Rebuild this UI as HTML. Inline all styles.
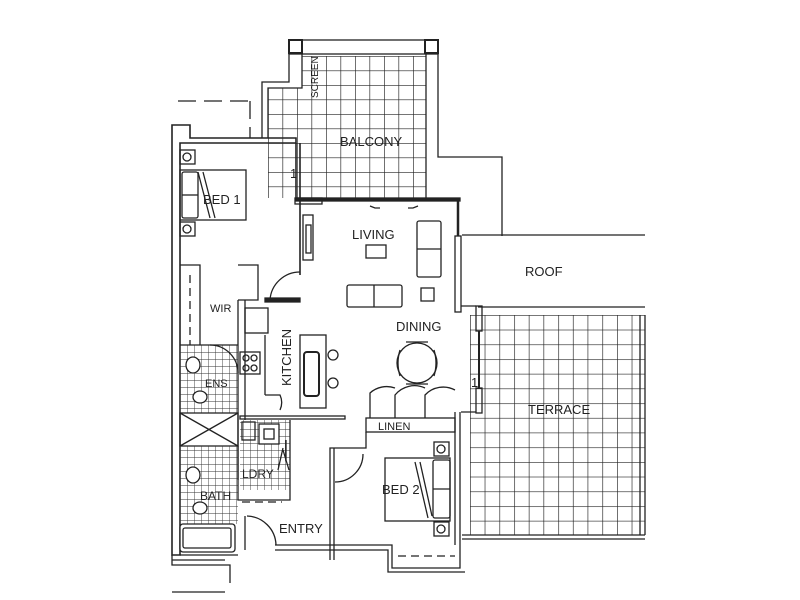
<!DOCTYPE html>
<html><head><meta charset="utf-8"><style>
html,body{margin:0;padding:0;background:#fff;}
svg{display:block;}
text{font-family:"Liberation Sans",sans-serif;font-size:13px;fill:#222;}
</style></head><body>
<svg width="800" height="600" viewBox="0 0 800 600" xmlns="http://www.w3.org/2000/svg">
<defs>
<pattern id="g1" x="268" y="56" width="14.5" height="14.5" patternUnits="userSpaceOnUse">
<path d="M0 0H14.5M0 0V14.5" stroke="#222" stroke-width="1.3" fill="none"/></pattern>
<pattern id="g2" x="470" y="315" width="14.7" height="14.7" patternUnits="userSpaceOnUse">
<path d="M0 0H14.7M0 0V14.7" stroke="#222" stroke-width="1.3" fill="none"/></pattern>
<pattern id="g3" x="180" y="345" width="7" height="7" patternUnits="userSpaceOnUse">
<path d="M0 0H7M0 0V7" stroke="#333" stroke-width="0.9" fill="none"/></pattern>
</defs>
<g fill="none" stroke="#222" stroke-width="1.3">
<rect x="302" y="56" width="124" height="142" fill="url(#g1)" stroke="none"/>
<rect x="268" y="88" width="34" height="110" fill="url(#g1)" stroke="none"/>
<rect x="289" y="40" width="149" height="14"/>
<rect x="289" y="40" width="13" height="13" stroke-width="2"/>
<rect x="425" y="40" width="13" height="13" stroke-width="2"/>
<path d="M302 54V88H268V138M262 138V82H289V54"/>
<path d="M426 53V198M438 53V157H502V236"/>
<path d="M178 101H250M250 101V138" stroke-dasharray="18,8"/>
<path d="M462 235H645M478 307H645"/>
<rect x="470" y="315" width="175" height="220" fill="url(#g2)" stroke="none"/>
<path d="M640 315V535M645 315V535M462 535H645M462 539H645"/>
<path d="M172 125H190V138H296V143H180V555H172Z" stroke-width="1.6"/>
<path d="M172 555V565H230V583M172 560H225M180 555H238"/>
<path d="M172 592H225"/>
<path d="M296 143V200M300 143V275" stroke-width="1.6"/>
<rect x="296" y="198" width="164" height="3" fill="#222"/>
<rect x="295" y="198" width="27" height="6"/>
<path d="M458 200V236" stroke-width="2.5"/>
<rect x="455" y="236" width="6" height="76"/>
<rect x="476" y="306" width="6" height="25"/><rect x="476" y="388" width="6" height="25"/>
<path d="M479 331V388" stroke-width="2"/>
<path d="M461 306H476M461 412H476"/>
<rect x="303" y="215" width="10" height="45"/><rect x="306" y="225" width="5" height="28"/>
<rect x="417" y="221" width="24" height="56" rx="2"/><path d="M417 249H441"/>
<rect x="366" y="245" width="20" height="13"/>
<rect x="347" y="285" width="55" height="22" rx="2"/><path d="M374 285V307"/>
<rect x="421" y="288" width="13" height="13"/>
<path d="M370 206L375 208H380M418 206L413 208H408"/>
<path d="M270 300A30 30 0 0 1 300 272"/>
<path d="M265 298H300V302H265Z" fill="#222"/>
<path d="M180 265H200V345M238 265H258V300H238" />
<path d="M190 275V345" stroke-dasharray="8,5"/>
<path d="M238 300V480M245 300V420"/>
<rect x="245" y="308" width="23" height="25"/>
<rect x="240" y="352" width="20" height="22"/>
<circle cx="246" cy="358" r="3"/><circle cx="254" cy="358" r="3"/><circle cx="246" cy="368" r="3"/><circle cx="254" cy="368" r="3"/>
<path d="M265 335V395"/>
<rect x="300" y="335" width="26" height="73"/>
<rect x="304" y="352" width="15" height="44" rx="3" stroke-width="2"/>
<circle cx="333" cy="355" r="5"/><circle cx="333" cy="383" r="5"/>
<path d="M265 395H280A18 18 0 0 1 280 410"/>
<rect x="240" y="416" width="105" height="3"/>
<circle cx="417" cy="363" r="20"/>
<path d="M400 350Q396 363 400 376M434 350Q438 363 434 376M406 342H428M406 384H428"/>
<path d="M370 418V393A25 25 0 0 1 395 388M395 418V395A25 25 0 0 1 425 388M425 418V395A25 25 0 0 1 455 390"/>
<rect x="366" y="418" width="89" height="14"/>
<path d="M455 412V545M460 412V545"/>
<path d="M366 432V448H330V560"/>
<path d="M334 448V560"/>
<path d="M335 482A28 28 0 0 0 363 454"/>
<rect x="385" y="458" width="65" height="63"/>
<rect x="433" y="460" width="17" height="58" rx="2"/><path d="M433 489H450"/>
<path d="M415 462L428 518M420 462L432 516"/>
<rect x="434" y="442" width="15" height="14"/><circle cx="441" cy="449" r="4"/>
<rect x="434" y="522" width="15" height="14"/><circle cx="441" cy="529" r="4"/>
<path d="M275 545H392V568H460V545M275 550H388V572H465"/>
<path d="M398 556H455" stroke-dasharray="8,5"/>
<path d="M247 516A30 30 0 0 1 276 545"/>
<path d="M245 516V550"/>
<rect x="180" y="150" width="15" height="14"/><circle cx="187" cy="157" r="4"/>
<rect x="180" y="222" width="15" height="14"/><circle cx="187" cy="229" r="4"/>
<rect x="180" y="170" width="66" height="50"/>
<rect x="182" y="172" width="16" height="46" rx="2"/><path d="M182 195H198"/>
<path d="M198 172L210 218M203 172L215 218"/>
<rect x="180" y="345" width="58" height="68" fill="url(#g3)" stroke="none"/>
<path d="M180 345H238"/>
<ellipse cx="193" cy="365" rx="7" ry="8" fill="#fff"/>
<ellipse cx="200" cy="397" rx="7" ry="6" fill="#fff"/>
<path d="M210 345A28 28 0 0 1 238 373"/>
<rect x="180" y="413" width="58" height="33"/>
<path d="M180 413L238 446M238 413L180 446"/>
<rect x="180" y="446" width="58" height="78" fill="url(#g3)" stroke="none"/>
<rect x="240" y="420" width="50" height="70" fill="url(#g3)" stroke="none"/>
<path d="M238 446V500H290V420"/>
<ellipse cx="193" cy="475" rx="7" ry="8" fill="#fff"/>
<ellipse cx="200" cy="508" rx="7" ry="6" fill="#fff"/>
<rect x="242" y="422" width="13" height="18"/>
<rect x="259" y="424" width="20" height="20" fill="#fff"/><rect x="264" y="429" width="10" height="10"/>
<path d="M286 440V460M283 448L278 470M283 450L289 470"/>
<path d="M242 502H282" stroke-dasharray="8,5"/>
<rect x="180" y="524" width="55" height="28" rx="3" fill="#fff"/>
<rect x="183" y="528" width="48" height="20" rx="2"/>
</g>
<g>
<text x="340" y="146">BALCONY</text>
<text x="203" y="204">BED 1</text>
<text x="352" y="239">LIVING</text>
<text x="525" y="276">ROOF</text>
<text x="396" y="331">DINING</text>
<text x="210" y="312" style="font-size:11px">WIR</text>
<text x="205" y="387" style="font-size:11px">ENS</text>
<text x="378" y="430" style="font-size:11px">LINEN</text>
<text x="528" y="414">TERRACE</text>
<text x="242" y="478" style="font-size:12px">LDRY</text>
<text x="382" y="494">BED 2</text>
<text x="200" y="500" style="font-size:12px">BATH</text>
<text x="279" y="533">ENTRY</text>
<text x="291" y="386" transform="rotate(-90 291 386)">KITCHEN</text>
<text x="318" y="98" transform="rotate(-90 318 98)" style="font-size:10px">SCREEN</text>
<text x="290" y="178">1</text>
<text x="471" y="387">1</text>
</g>
</svg>
</body></html>
